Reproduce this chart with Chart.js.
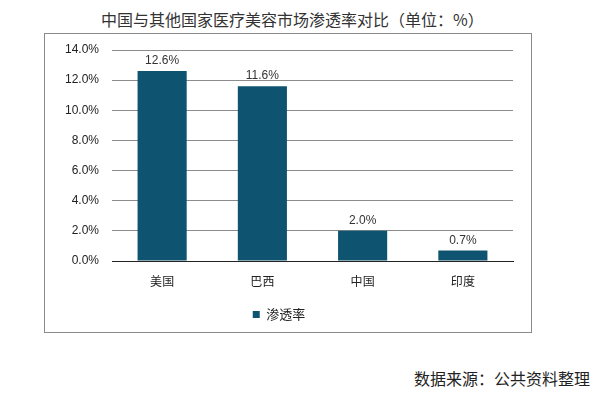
<!DOCTYPE html>
<html>
<head>
<meta charset="utf-8">
<script src="https://cdn.jsdelivr.net/npm/chart.js@4"></script>
<style>
  body { margin: 0; background: #fff; }
  #wrap { position: relative; width: 594px; height: 393px; font-family: "Liberation Sans", "Noto Sans CJK SC", sans-serif; }
  #title { position: absolute; left: 101px; top: 7px; font-size: 16px; color: #333; font-family: "Noto Sans CJK SC", sans-serif; white-space: nowrap; }
  #box { position: absolute; left: 44px; top: 33px; width: 486px; height: 298px; border: 1px solid #8a8a8a; }
  #source { position: absolute; left: 414px; top: 366px; font-size: 16px; color: #222; font-family: "Noto Sans CJK SC", sans-serif; white-space: nowrap; }
</style>
</head>
<body>
<div id="wrap">
  <div id="title">中国与其他国家医疗美容市场渗透率对比（单位：%）</div>
  <div id="box"><canvas id="c" width="486" height="298"></canvas></div>
  <div id="source">数据来源：公共资料整理</div>
</div>
<script>
// categories and values
const countries = ['美国', '巴西', '中国', '印度'];
const penetration = [12.6, 11.6, 2.0, 0.7];
const seriesName = '渗透率';
const barColor = '#0e5470';

// draw the value above each bar
const valueLabels = {
    id: 'valueLabels',
    afterDatasetsDraw(chart) {
        const ctx = chart.ctx;
        const meta = chart.getDatasetMeta(0);
        ctx.save();
        ctx.font = '12px "Liberation Sans", Arial, sans-serif';
        ctx.fillStyle = '#333';
        ctx.textAlign = 'center';
        ctx.textBaseline = 'bottom';
        meta.data.forEach((bar, i) => {
            ctx.fillText(penetration[i].toFixed(1) + '%', bar.x, bar.y - 4);
        });
        ctx.restore();
    }
};

const ctx = document.getElementById('c').getContext('2d');
new Chart(ctx, {
    type: 'bar',
    data: {
        labels: countries,
        datasets: [{
            label: seriesName,
            data: penetration,
            backgroundColor: barColor,
            barPercentage: 0.49,
            categoryPercentage: 1.0
        }]
    },
    options: {
        responsive: false,
        animation: false,
        layout: { padding: { top: 16, right: 18, bottom: 1, left: 0 } },
        plugins: {
            legend: {
                position: 'bottom',
                labels: {
                    boxWidth: 7, boxHeight: 7,
                    color: '#222',
                    font: { size: 13, family: '"Noto Sans CJK SC", sans-serif' }
                }
            },
            tooltip: { enabled: false }
        },
        scales: {
            x: {
                grid: { display: false },
                border: { color: '#222' },
                ticks: { color: '#222', padding: 5, font: { size: 12, family: '"Noto Sans CJK SC", sans-serif' } },
                afterFit(s) { s.height = 37; }
            },
            y: {
                min: 0, max: 14,
                border: { display: false },
                grid: {
                    color: (c) => c.tick.value === 0 ? '#222' : '#8c8c8c',
                    drawTicks: false
                },
                ticks: {
                    stepSize: 2,
                    color: '#222',
                    padding: 13,
                    font: { size: 12, family: '"Liberation Sans", Arial, sans-serif' },
                    callback: (v) => v.toFixed(1) + '%'
                },
                afterFit(s) { s.width = 67; s.paddingTop = 0; s.paddingBottom = 0; }
            }
        }
    },
    plugins: [valueLabels]
});
</script>
</body>
</html>
